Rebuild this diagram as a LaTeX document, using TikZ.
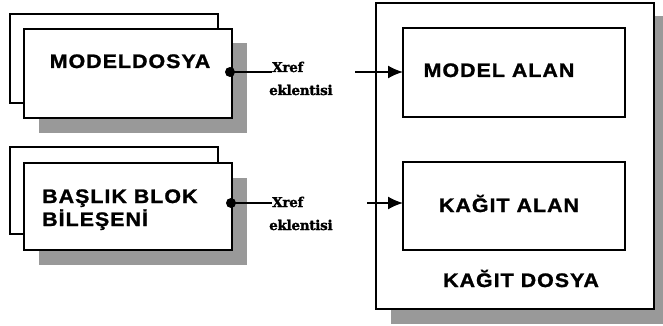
\documentclass[tikz,border=0pt]{standalone}
\usepackage{fontspec}
\setmainfont{Liberation Sans}
\newfontfamily\boxfont[LetterSpace=5,FakeStretch=1.1,FakeBold=1.2]{Liberation Sans Bold}
\newfontfamily\xreffont[FakeBold=1.5,LetterSpace=-2]{DejaVu Serif Bold}
\usetikzlibrary{arrows.meta}
\definecolor{shade}{gray}{0.6}
\tikzset{
  frontbox/.style={draw=black, line width=2.2pt, fill=white, inner sep=0pt, outer sep=0pt},
  backbox/.style={draw=black, line width=1.6pt, fill=white, inner sep=0pt, outer sep=0pt},
  shadowbox/.style={fill=shade, draw=none, inner sep=0pt, outer sep=0pt},
  innerbox/.style={draw=black, line width=1.6pt, fill=white, inner sep=0pt, outer sep=0pt},
  lbl/.style={font=\boxfont\fontsize{19.5}{23}\selectfont, inner sep=0pt, anchor=base},
  xlbl/.style={font=\xreffont\fontsize{13.5}{15}\selectfont, inner sep=0pt, anchor=base west},
  dotnode/.style={circle, fill=black, minimum size=10pt, inner sep=0pt},
  link/.style={line width=1.3pt},
  arr/.style={line width=1.8pt, -{Latex[length=15pt, width=13pt]}}
}
\begin{document}
\begin{tikzpicture}[x=1pt, y=-1pt]
\useasboundingbox (0,0) rectangle (663,326);
% ---- top-left group
\node[shadowbox, minimum width=208pt, minimum height=89pt] (sh1) at (143,88) {};
\node[backbox, minimum width=208pt, minimum height=89pt] (back1) at (114,58.5) {};
\node[frontbox, minimum width=208pt, minimum height=89pt] (front1) at (128,73.5) {};
\node[lbl] (t1) at (130,68) {MODELDOSYA};
% ---- bottom-left group
\node[shadowbox, minimum width=208pt, minimum height=87pt] (sh2) at (143,221.5) {};
\node[backbox, minimum width=208pt, minimum height=87pt] (back2) at (114,190.5) {};
\node[frontbox, minimum width=208pt, minimum height=87pt] (front2) at (128,206.5) {};
\node[lbl, anchor=base west] (t2a) at (42,203) {BAŞLIK BLOK};
\node[lbl, anchor=base west] (t2b) at (42,226) {BİLEŞENİ};
% ---- right group
\node[shadowbox, minimum width=280pt, minimum height=308pt] (sh3) at (531,170) {};
\node[frontbox, minimum width=278pt, minimum height=306pt] (outer) at (515,156) {};
\node[innerbox, minimum width=222pt, minimum height=89pt] (model) at (514,72.5) {};
\node[innerbox, minimum width=222pt, minimum height=88pt] (kagit) at (514,206) {};
\node[lbl] (t3) at (499,77) {MODEL ALAN};
\node[lbl] (t4) at (509,212) {KAĞIT ALAN};
\node[lbl] (t5) at (521,287) {KAĞIT DOSYA};
% ---- xref labels and dots
\node[dotnode] (d1) at (230,72) {};
\node[dotnode] (d2) at (231,203) {};
\node[xlbl] (x1) at (272,72) {Xref};
\node[xlbl] (e1) at (269,95) {eklentisi};
\node[xlbl] (x2) at (272,207) {Xref};
\node[xlbl] (e2) at (269,230) {eklentisi};
\draw[link] (d1.center) -- (d1.center -| x1.west);
\draw[link] (d2.center) -- (d2.center -| x2.west);
% ---- arrows
\coordinate (a1) at (355,72);
\coordinate (a2) at (367,203);
\draw[arr] (a1) -- (a1 -| model.west);
\draw[arr] (a2) -- (a2 -| kagit.west);
\end{tikzpicture}
\end{document}
